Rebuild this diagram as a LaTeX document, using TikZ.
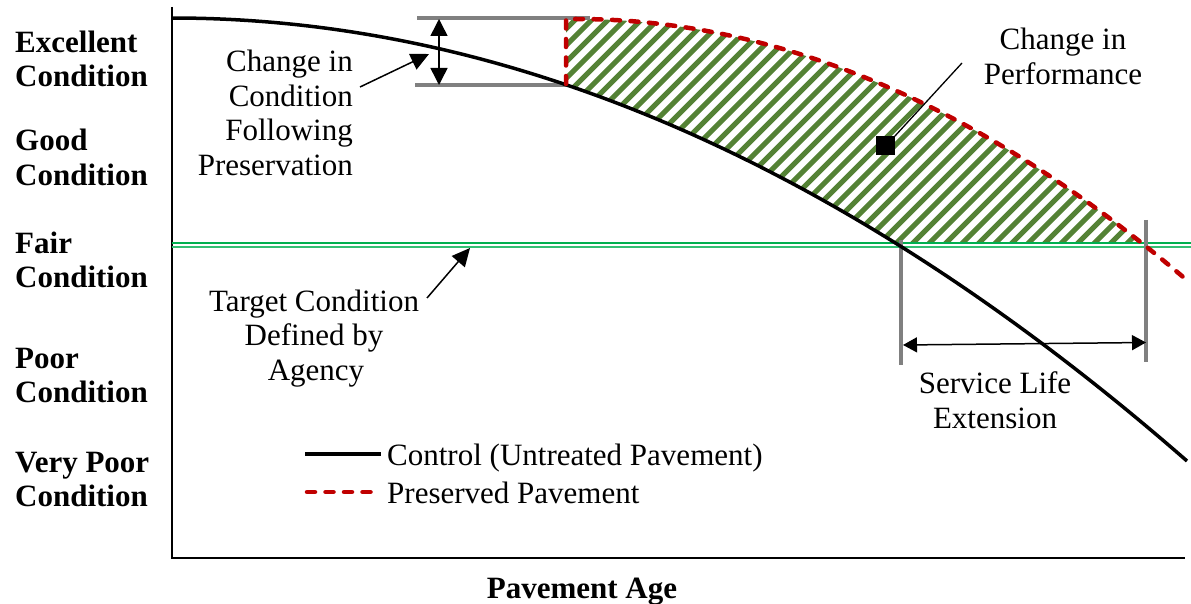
\documentclass[tikz,border=0pt]{standalone}
\usepackage{fontspec}
\setmainfont{Liberation Serif}
\usetikzlibrary{arrows.meta}
\definecolor{redd}{HTML}{C00000}
\definecolor{hatchg}{HTML}{548235}
\definecolor{fairg}{HTML}{00B050}
\definecolor{fairl}{HTML}{33C073}
\definecolor{grayl}{HTML}{808080}
\begin{document}
\begin{tikzpicture}[x=1pt,y=-1pt,
  txt/.style={font=\fontsize{31}{34}\selectfont, inner sep=0pt},
  btxt/.style={font=\fontsize{31}{34}\selectfont\bfseries, inner sep=0pt, anchor=base west},
  ctrl/.style={line width=3.5pt, black},
  pres/.style={line width=4.5pt, redd, line cap=round, dash pattern=on 8pt off 10.5pt},
  guide/.style={line width=4pt, grayl},
  fairline/.style={line width=2pt},
  lead/.style={line width=1.5pt, -{Triangle[width=17pt,length=18pt]}},
  dim/.style={line width=1.5pt, {Triangle[width=17pt,length=17pt]}-{Triangle[width=17pt,length=17pt]}},
  dimb/.style={line width=1.5pt, {Triangle[width=15pt,length=14pt]}-{Triangle[width=15pt,length=14pt]}},
  hatch/.style={line width=5pt, hatchg}
]
\useasboundingbox (0,0) rectangle (1191,604);

% hatched area
\begin{scope}
  \clip (566,19) -- plot[domain=566:1142, samples=60] (\x,{19+7*((\x-576)/100)^2})
        -- (895,243) -- plot[domain=895:566, samples=40] (\x,{18+4.3*((\x-172)/100)^2}) -- cycle;
  \foreach \i in {0,...,56} {
    \draw[hatch] (300+\i*16.5,262) -- ++(270,-270);
  }
\end{scope}

% axes
\coordinate (ytop) at (172,7);
\coordinate (orig) at (172,558);
\coordinate (xend) at (1185,558);
\draw[line width=2pt] (ytop) -- (orig) -- (xend);

% target (fair) line
\coordinate (fairA) at (172,242.5);
\coordinate (fairB) at (1191,242.5);
\coordinate (fairC) at (172,246.5);
\coordinate (fairD) at (1191,246.5);
\draw[fairline, fairg] (fairA) -- (fairB);
\draw[fairline, fairl] (fairC) -- (fairD);

% guide lines (condition change)
\coordinate (gt1) at (417,18.5);
\coordinate (gt2) at (590,18.5);
\coordinate (gb1) at (415,85);
\coordinate (gb2) at (567,85);
\draw[guide] (gt1) -- (gt2);
\draw[guide] (gb1) -- (gb2);

% guide lines (service life)
\coordinate (sl1) at (901,240);
\coordinate (sl2) at (901,365);
\coordinate (sr1) at (1146,220);
\coordinate (sr2) at (1146,362);
\draw[guide] (sl1) -- (sl2);
\draw[guide] (sr1) -- (sr2);

% control curve
\draw[ctrl] plot[domain=172:1187, samples=120] (\x,{18+4.3*((\x-172)/100)^2});

% preserved curve
\draw[pres] (566,84) -- (566,19) -- plot[domain=576:1187, samples=100] (\x,{19+7*((\x-576)/100)^2});

% dimension arrows
\coordinate (da1) at (439,19);
\coordinate (da2) at (439,85);
\draw[dim] (da1) -- (da2);
\coordinate (sa1) at (903,345);
\coordinate (sa2) at (1146,342.5);
\draw[dimb] (sa1) -- (sa2);

% left labels
\node[btxt] (l1a) at (15,53) {Excellent};
\node[btxt] (l1b) at (15,87) {Condition};
\node[btxt] (l2a) at (15,151) {Good};
\node[btxt] (l2b) at (15,186) {Condition};
\node[btxt] (l3a) at (15,253) {Fair};
\node[btxt] (l3b) at (15,287) {Condition};
\node[btxt] (l4a) at (15,368) {Poor};
\node[btxt] (l4b) at (15,402) {Condition};
\node[btxt] (l5a) at (15,472) {Very Poor};
\node[btxt] (l5b) at (15,506) {Condition};
\node[btxt, anchor=base] (xlab) at (582,598) {Pavement Age};

% change in condition text
\node[txt, anchor=base east] (cc1) at (353,72) {Change in};
\node[txt, anchor=base east] (cc2) at (353,107) {Condition};
\node[txt, anchor=base east] (cc3) at (353,141) {Following};
\node[txt, anchor=base east] (cc4) at (353,176) {Preservation};
\coordinate (ccS) at (360,87);
\coordinate (ccTip) at (429,54);
\draw[lead] (ccS) -- (ccTip);

% target condition text
\node[txt, anchor=base] (tc1) at (314,311) {Target Condition};
\node[txt, anchor=base] (tc2) at (314,345) {Defined by};
\node[txt, anchor=base] (tc3) at (316,380) {Agency};
\coordinate (tcS) at (427,298);
\coordinate (tcTip) at (470,248);
\draw[lead] (tcS) -- (tcTip);

% change in performance
\node[txt, anchor=base] (cp1) at (1063,50) {Change in};
\node[txt, anchor=base] (cp2) at (1063,85) {Performance};
\node[fill=black, minimum size=19pt, inner sep=0pt] (sq) at (885,146) {};
\coordinate (cpS) at (962,63);
\draw[line width=1.3pt] (cpS) -- (sq.north east);

% service life extension
\node[txt, anchor=base] (se1) at (995,393) {Service Life};
\node[txt, anchor=base] (se2) at (995,428) {Extension};

% legend
\coordinate (lg1a) at (305,454);
\coordinate (lg1b) at (381,454);
\coordinate (lg2a) at (307,492);
\coordinate (lg2b) at (379,492);
\draw[ctrl] (lg1a) -- (lg1b);
\draw[pres] (lg2a) -- (lg2b);
\node[txt, anchor=base west] (lgt1) at (387,465) {Control (Untreated Pavement)};
\node[txt, anchor=base west] (lgt2) at (387,503) {Preserved Pavement};
\end{tikzpicture}
\end{document}
